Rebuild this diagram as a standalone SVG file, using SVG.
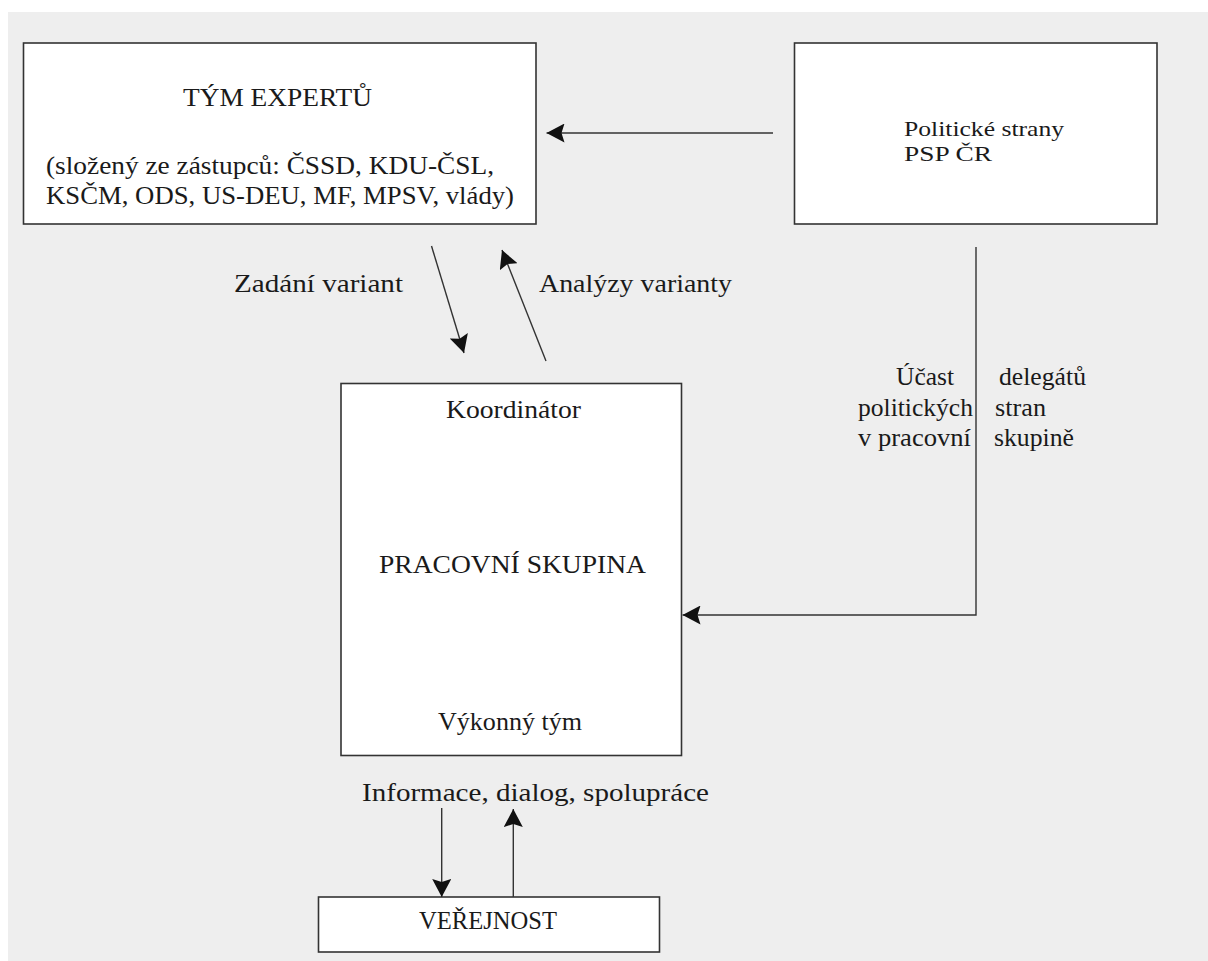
<svg xmlns="http://www.w3.org/2000/svg" width="1208" height="961" viewBox="0 0 1208 961">
<defs>
<style>
.box{fill:#ffffff;stroke:#333333;stroke-width:1.6}
.t{font-family:"Liberation Serif","Times New Roman",serif;font-size:26px;fill:#1a1a1a}
.s{font-size:22px}
.c{fill:none;stroke:#333333;stroke-width:1.4}
</style>
<marker id="ah" viewBox="0 0 18 19" refX="18" refY="9.5" markerWidth="18" markerHeight="19" markerUnits="userSpaceOnUse" orient="auto">
<path d="M0,0 L18,9.5 L0,19 L3,9.5 z" fill="#111111"/>
</marker>
</defs>
<rect x="0" y="0" width="1208" height="961" fill="#ffffff"/>
<rect x="8" y="12" width="1200" height="949" fill="#eeeeee"/>

<g id="tym-expertu">
<rect class="box" x="23.5" y="43" width="512.5" height="181"/>
<text class="t" x="183" y="106" textLength="189" lengthAdjust="spacingAndGlyphs">TÝM EXPERTŮ</text>
<text class="t" x="46" y="174" textLength="448" lengthAdjust="spacingAndGlyphs">(složený ze zástupců: ČSSD, KDU-ČSL,</text>
<text class="t" x="46" y="204" textLength="468" lengthAdjust="spacingAndGlyphs">KSČM, ODS, US-DEU, MF, MPSV, vlády)</text>
</g>

<g id="politicke-strany">
<rect class="box" x="794.5" y="43" width="362.5" height="181"/>
<text class="t s" x="904" y="136" textLength="160" lengthAdjust="spacingAndGlyphs">Politické strany</text>
<text class="t s" x="904" y="161" textLength="88" lengthAdjust="spacingAndGlyphs">PSP ČR</text>
</g>

<g id="pracovni-skupina">
<rect class="box" x="341" y="383.5" width="340.5" height="372"/>
<text class="t" x="446" y="418" textLength="135" lengthAdjust="spacingAndGlyphs">Koordinátor</text>
<text class="t" x="379" y="573" textLength="267" lengthAdjust="spacingAndGlyphs">PRACOVNÍ SKUPINA</text>
<text class="t" x="438" y="730" textLength="144" lengthAdjust="spacingAndGlyphs">Výkonný tým</text>
</g>

<g id="verejnost">
<rect class="box" x="318.5" y="897" width="341" height="55"/>
<text class="t" x="419" y="929" textLength="138" lengthAdjust="spacingAndGlyphs">VEŘEJNOST</text>
</g>

<g id="connectors">
<line class="c" x1="773" y1="133" x2="546.5" y2="133" marker-end="url(#ah)"/>
<line class="c" x1="431.5" y1="246" x2="464" y2="353" marker-end="url(#ah)"/>
<line class="c" x1="546" y1="361" x2="502" y2="250" marker-end="url(#ah)"/>
<polyline class="c" points="976,247 976,615 682.5,615" marker-end="url(#ah)"/>
<line class="c" x1="441.7" y1="808" x2="441.7" y2="897" marker-end="url(#ah)"/>
<line class="c" x1="513.3" y1="897" x2="513.3" y2="809" marker-end="url(#ah)"/>
</g>

<g id="labels">
<text class="t" x="234" y="292" textLength="169" lengthAdjust="spacingAndGlyphs">Zadání variant</text>
<text class="t" x="539" y="292" textLength="193" lengthAdjust="spacingAndGlyphs">Analýzy varianty</text>
<text class="t" x="896" y="385" textLength="58" lengthAdjust="spacingAndGlyphs">Účast</text>
<text class="t" x="999" y="385" textLength="87" lengthAdjust="spacingAndGlyphs">delegátů</text>
<text class="t" x="858" y="416" textLength="115" lengthAdjust="spacingAndGlyphs">politických</text>
<text class="t" x="995" y="416" textLength="51" lengthAdjust="spacingAndGlyphs">stran</text>
<text class="t" x="858" y="446" textLength="113" lengthAdjust="spacingAndGlyphs">v pracovní</text>
<text class="t" x="994" y="446" textLength="80" lengthAdjust="spacingAndGlyphs">skupině</text>
<text class="t" x="362" y="801" textLength="347" lengthAdjust="spacingAndGlyphs">Informace, dialog, spolupráce</text>
</g>
</svg>
